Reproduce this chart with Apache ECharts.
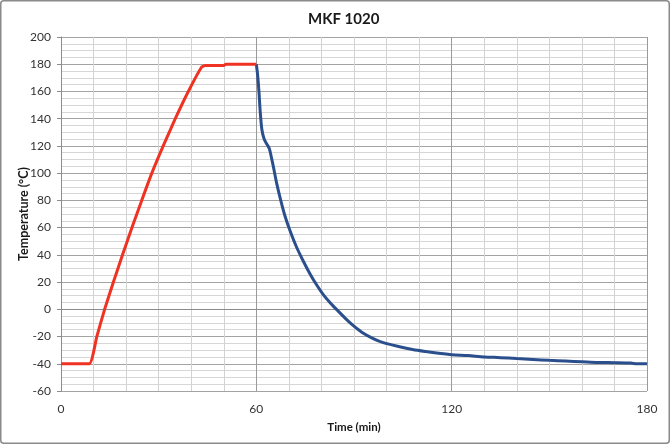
<!DOCTYPE html>
<html>
<head>
<meta charset="utf-8">
<script src="https://cdn.jsdelivr.net/npm/echarts@6/dist/echarts.min.js"></script>
<style>
html,body{margin:0;padding:0;background:#fff;}
#c{width:670px;height:444px;}
</style>
</head>
<body>
<div id="c"></div>
<script>
var titleText = 'MKF 1020';
var xName = 'Time (min)';
var yName = 'Temperature (°C)';

var heatTime = [0, 8.7, 11.0, 13.4, 16.1, 18.9, 21.8, 24.8, 27.9, 31.4, 35.1, 39.1, 43.2, 44.3, 50.0, 50.6, 60];
var heatTemp = [-40, -40, -20, 0, 20, 40, 60, 80, 100, 120, 140, 160, 178, 179, 179, 180, 180];

var coolTime = [60, 60.4, 60.8, 61.2, 61.7, 62.4, 63.3, 64.0, 64.5, 65.3, 66.2, 67.5, 68.8, 70.3, 72.2, 74.4, 76.5, 78.5, 80.5, 82.6, 85.0, 87.5, 89.8, 92.5, 95.9, 99.0, 104.0, 108.0, 112.0, 116.0, 120, 125, 130, 135, 140, 145, 150, 155, 160, 165, 170, 175, 177, 180];
var coolTemp = [180, 172, 160, 145, 132, 125, 121, 118, 113, 104, 93, 80, 68.5, 58, 46.5, 35.5, 26, 18, 11, 5, -1, -7, -12, -17, -21.5, -24.5, -27.5, -29.5, -31, -32.3, -33.3, -34, -35, -35.5, -36.2, -36.8, -37.5, -38, -38.5, -39, -39.2, -39.5, -40, -40];

function pairs(xs, ys) { return xs.map(function (x, i) { return [x, ys[i]]; }); }

var font = 'Lato, "Open Sans", sans-serif';
var chart = echarts.init(document.getElementById('c'), null, {renderer: 'canvas'});
chart.setOption({
  animation: false,
  backgroundColor: '#fff',
  title: {
    text: titleText, left: 303, top: 7,
    textStyle: {fontFamily: font, fontSize: 15, fontWeight: 'bold', color: '#1a1a1a'}
  },
  graphic: [{
    type: 'rect', shape: {x: 0.75, y: 0.75, width: 668.5, height: 442.5, r: 3},
    style: {fill: 'none', stroke: '#8a8a8a', lineWidth: 1.5}, silent: true, z: 100
  }],
  grid: {left: 61, right: 23, top: 37, bottom: 53, containLabel: false, outerBoundsMode: 'none'},
  xAxis: {
    type: 'value', min: 0, max: 180, interval: 60,
    name: xName, nameLocation: 'middle', nameGap: 30, nameMoveOverlap: false,
    nameTextStyle: {fontFamily: font, fontSize: 11.5, fontWeight: 'bold', color: '#1a1a1a'},
    axisLine: {show: true, lineStyle: {color: '#8c8c8c', width: 1}},
    axisTick: {show: false},
    axisLabel: {fontFamily: font, fontSize: 12, color: '#333', margin: 12},
    splitLine: {show: true, lineStyle: {color: '#9a9a9a', width: 1}},
    minorTick: {show: false, splitNumber: 6},
    minorSplitLine: {show: true, lineStyle: {color: '#d2d2d2', width: 1}}
  },
  yAxis: {
    type: 'value', min: -60, max: 200, interval: 20,
    name: yName, nameLocation: 'middle', nameGap: 31, nameRotate: 90, nameMoveOverlap: false,
    nameTextStyle: {fontFamily: font, fontSize: 12.5, fontWeight: 'bold', color: '#1a1a1a'},
    axisLine: {show: true, lineStyle: {color: '#8c8c8c', width: 1}},
    axisTick: {show: true, length: 4, lineStyle: {color: '#8c8c8c'}},
    axisLabel: {fontFamily: font, fontSize: 12, color: '#333', margin: 10},
    splitLine: {show: true, lineStyle: {color: '#a3a3a3', width: 1}},
    minorTick: {show: false, splitNumber: 4},
    minorSplitLine: {show: true, lineStyle: {color: '#d6d6d6', width: 1}}
  },
  series: [
    {
      type: 'line', name: 'heat', data: pairs(heatTime, heatTemp),
      showSymbol: false, symbol: 'none', smooth: 0.15,
      lineStyle: {color: '#f03223', width: 3}, z: 3
    },
    {
      type: 'line', name: 'cool', data: pairs(coolTime, coolTemp),
      showSymbol: false, symbol: 'none', smooth: 0.3,
      lineStyle: {color: '#2a4f8c', width: 3}, z: 2
    }
  ]
});
</script>
</body>
</html>
